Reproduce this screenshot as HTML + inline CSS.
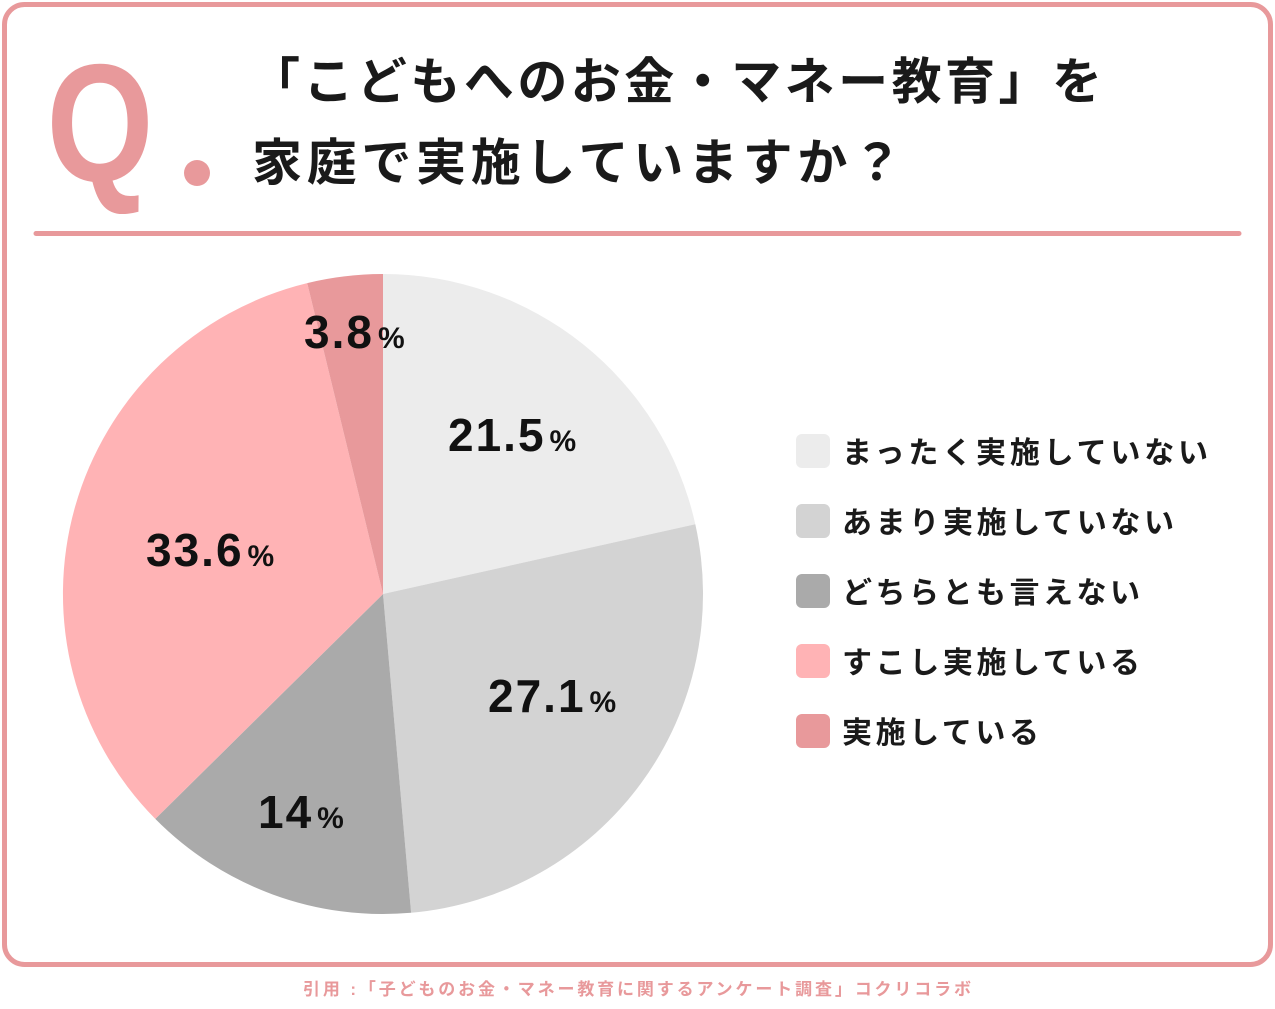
<!DOCTYPE html>
<html><head><meta charset="utf-8"><style>
body{margin:0;width:1275px;height:1009px;background:#fff;overflow:hidden;font-family:"Liberation Sans","Noto Sans CJK JP",sans-serif;}
</style></head><body>
<svg width="1275" height="1009" xmlns="http://www.w3.org/2000/svg" style="position:absolute;left:0;top:0">
<rect x="4.5" y="4.5" width="1266" height="960" rx="20" fill="#fff" stroke="#e8999b" stroke-width="5"/>
<text transform="translate(100,181) scale(0.82,1)" text-anchor="middle" font-family="Liberation Sans,sans-serif" font-weight="bold" font-size="168" fill="#e8999b">Q</text>
<circle cx="197" cy="173" r="13" fill="#e8999b"/>
<g font-family="Liberation Sans,Noto Sans CJK JP,sans-serif" font-weight="bold" font-size="50" fill="#1a1a1a">
<text x="250" y="99" textLength="852" lengthAdjust="spacing">「こどもへのお金・マネー教育」を</text>
<text x="252" y="180" textLength="650" lengthAdjust="spacing">家庭で実施していますか？</text>
</g>
<line x1="36" y1="233.5" x2="1239" y2="233.5" stroke="#e8999b" stroke-width="5" stroke-linecap="round"/>
<g>
<path d="M383,594 L383,274 A320,320 0 0 1 695.3,524.2 Z" fill="#ececec"/>
<path d="M383,594 L695.3,524.2 A320,320 0 0 1 411.1,912.8 Z" fill="#d3d3d3"/>
<path d="M383,594 L411.1,912.8 A320,320 0 0 1 155.3,818.9 Z" fill="#aaaaaa"/>
<path d="M383,594 L155.3,818.9 A320,320 0 0 1 307.2,283.1 Z" fill="#ffb3b5"/>
<path d="M383,594 L307.2,283.1 A320,320 0 0 1 383,274 Z" fill="#e8999b"/>
</g>
<g font-family="Liberation Sans,sans-serif" font-weight="bold" fill="#111" letter-spacing="2">
<text x="448" y="451" font-size="46">21.5<tspan font-size="30" dx="4">%</tspan></text>
<text x="488" y="712" font-size="46">27.1<tspan font-size="30" dx="4">%</tspan></text>
<text x="258" y="828" font-size="46">14<tspan font-size="30" dx="4">%</tspan></text>
<text x="146" y="566" font-size="46">33.6<tspan font-size="30" dx="4">%</tspan></text>
<text x="304" y="348" font-size="46">3.8<tspan font-size="30" dx="4">%</tspan></text>
</g>
<g>
<rect x="796" y="434" width="34" height="34" rx="6" fill="#ececec"/>
<rect x="796" y="504" width="34" height="34" rx="6" fill="#d3d3d3"/>
<rect x="796" y="574" width="34" height="34" rx="6" fill="#aaaaaa"/>
<rect x="796" y="644" width="34" height="34" rx="6" fill="#ffb3b5"/>
<rect x="796" y="714" width="34" height="34" rx="6" fill="#e8999b"/>
</g>
<g font-family="Liberation Sans,Noto Sans CJK JP,sans-serif" font-weight="bold" font-size="30" fill="#1a1a1a">
<text x="842" y="463" textLength="366" lengthAdjust="spacing">まったく実施していない</text>
<text x="842" y="533" textLength="332" lengthAdjust="spacing">あまり実施していない</text>
<text x="842" y="603" textLength="298" lengthAdjust="spacing">どちらとも言えない</text>
<text x="842" y="673" textLength="298" lengthAdjust="spacing">すこし実施している</text>
<text x="842" y="743" textLength="197" lengthAdjust="spacing">実施している</text>
</g>
<text x="637" y="995" text-anchor="middle" font-family="Liberation Sans,Noto Sans CJK JP,sans-serif" font-weight="bold" font-size="17" fill="#e8999b" textLength="668" lengthAdjust="spacing">引用 :「子どものお金・マネー教育に関するアンケート調査」コクリコラボ</text>
</svg>
</body></html>
